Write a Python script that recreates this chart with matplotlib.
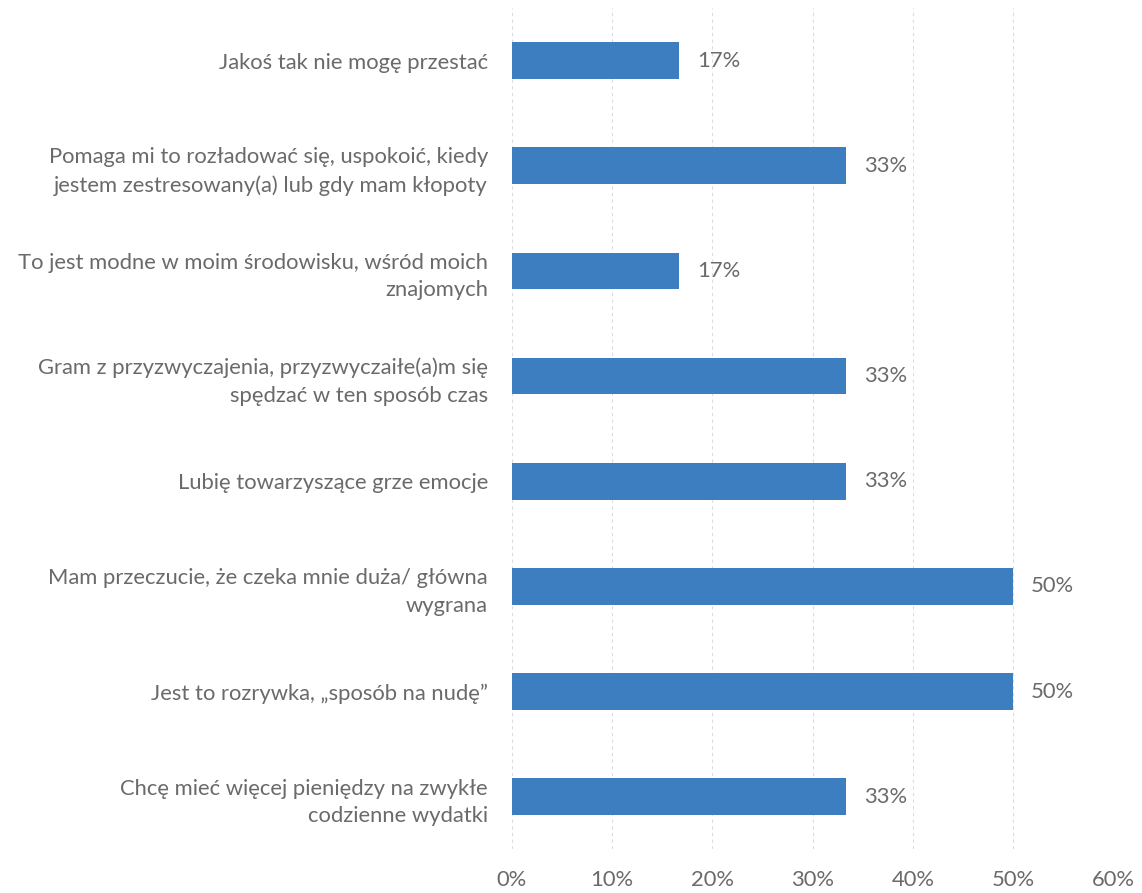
import numpy as np
import matplotlib.pyplot as plt

plt.rcParams['font.family'] = ['Lato', 'DejaVu Sans']

# categories top to bottom, as in the reference
labels = [
    "Jakoś tak nie mogę przestać",
    "Pomaga mi to rozładować się, uspokoić, kiedy\njestem zestresowany(a) lub gdy mam kłopoty",
    "To jest modne w moim środowisku, wśród moich\nznajomych",
    "Gram z przyzwyczajenia, przyzwyczaiłe(a)m się\nspędzać w ten sposób czas",
    "Lubię towarzyszące grze emocje",
    "Mam przeczucie, że czeka mnie duża/ główna\nwygrana",
    "Jest to rozrywka, \u201esposób na nudę\u201d",
    "Chcę mieć więcej pieniędzy na zwykłe\ncodzienne wydatki",
]
values = [16.7, 33.3, 16.7, 33.3, 33.3, 50.0, 50.0, 33.3]
value_labels = ["17%", "33%", "17%", "33%", "33%", "50%", "50%", "33%"]
xticks = [0, 10, 20, 30, 40, 50, 60]

txt = '#6a6a6a'
fs = 15.8
fig = plt.figure(figsize=(11.42, 8.93), dpi=100)
ax = fig.add_axes([0.448, 0.049, 0.527, 0.942])

y = np.arange(len(labels))
ax.barh(y, values, height=0.35, color='#3c7ebf', zorder=3)
for yi, v, s in zip(y, values, value_labels):
    ax.text(v + 1.8, yi, s, va='center', ha='left', fontsize=fs, color=txt)

ax.set_xlim(0, 60)
ax.set_ylim(len(labels) - 0.5, -0.5)
ax.set_xticks(xticks)
ax.set_xticklabels([f"{t}%" for t in xticks], fontsize=fs, color=txt)
ax.set_yticks(y)
ax.set_yticklabels(labels, fontsize=fs, color=txt, ha='right',
                   multialignment='right', linespacing=1.45)
ax.tick_params(axis='x', length=0, pad=15)
ax.tick_params(axis='y', length=0, pad=17)
ax.grid(axis='x', color='#dcdcdc', linestyle=(0, (3, 3)), linewidth=0.8, zorder=0)
for sp in ax.spines.values():
    sp.set_visible(False)

fig.savefig('out.png', dpi=100)
